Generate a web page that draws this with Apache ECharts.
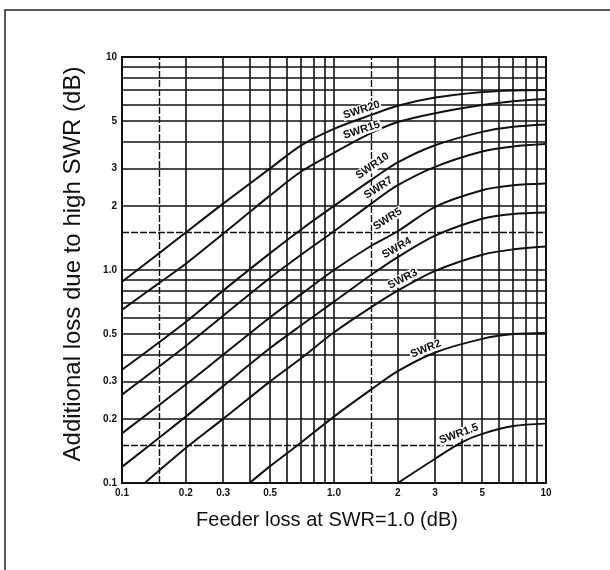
<!DOCTYPE html>
<html>
<head>
<meta charset="utf-8">
<script src="https://cdn.jsdelivr.net/npm/echarts@6/dist/echarts.min.js"></script>
<style>
  html, body { margin: 0; padding: 0; background: #fff; }
  #chart { width: 610px; height: 570px; }
</style>
</head>
<body>
<div id="chart"></div>
<script>
// values: feeder loss at SWR=1.0 (dB) -> additional loss (dB)
var feed20 = [0.1, 0.15, 0.2, 0.3, 0.5, 0.7, 1, 1.5, 2, 3, 5, 7, 10];
var add20  = [0.88, 1.2, 1.5, 2.05, 3.0, 3.85, 4.6, 5.35, 5.9, 6.45, 6.85, 6.97, 7.0];

var feed15 = [0.1, 0.15, 0.2, 0.3, 0.4, 0.5, 0.7, 1, 1.5, 2, 3, 5, 7, 10];
var add15  = [0.65, 0.87, 1.07, 1.48, 1.87, 2.24, 2.9, 3.55, 4.4, 4.95, 5.45, 5.95, 6.2, 6.35];

var feed10 = [0.1, 0.2, 0.3, 0.5, 0.7, 1, 1.5, 2, 3, 5, 7, 10];
var add10  = [0.34, 0.57, 0.8, 1.2, 1.55, 2.0, 2.65, 3.2, 3.85, 4.45, 4.7, 4.82];

var feed7 = [0.1, 0.2, 0.3, 0.5, 0.7, 1, 1.5, 2, 3, 5, 7, 10];
var add7  = [0.26, 0.44, 0.61, 0.92, 1.18, 1.52, 2.05, 2.5, 3.05, 3.6, 3.8, 3.9];

var feed5 = [0.1, 0.2, 0.3, 0.5, 0.7, 1, 1.5, 2, 3, 5, 7, 10];
var add5  = [0.171, 0.29, 0.4, 0.6, 0.77, 1.0, 1.3, 1.52, 1.98, 2.37, 2.5, 2.55];

var feed4 = [0.1, 0.2, 0.3, 0.5, 0.7, 1, 1.5, 2, 3, 5, 7, 10];
var add4  = [0.119, 0.205, 0.285, 0.43, 0.55, 0.71, 0.95, 1.15, 1.45, 1.74, 1.83, 1.86];

var feed3 = [0.128, 0.2, 0.3, 0.5, 0.7, 1, 1.5, 2, 3, 5, 7, 10];
var add3  = [0.1, 0.146, 0.2, 0.3, 0.385, 0.51, 0.67, 0.8, 0.99, 1.18, 1.25, 1.29];

var feed2 = [0.4, 0.5, 0.7, 1, 1.5, 2, 3, 5, 7, 10];
var add2  = [0.1, 0.12, 0.155, 0.205, 0.275, 0.335, 0.41, 0.475, 0.5, 0.506];

var feed15a = [2, 3, 4, 5, 7, 10];
var add15a  = [0.1, 0.13, 0.155, 0.17, 0.185, 0.19];

var curveNames = ['SWR20', 'SWR15', 'SWR10', 'SWR7', 'SWR5', 'SWR4', 'SWR3', 'SWR2', 'SWR1.5'];
var curveX = [feed20, feed15, feed10, feed7, feed5, feed4, feed3, feed2, feed15a];
var curveY = [add20, add15, add10, add7, add5, add4, add3, add2, add15a];

// tick labels and grid lines
var xLabels = [0.1, 0.2, 0.3, 0.5, 1, 2, 3, 5, 10];
var yLabels = [0.1, 0.2, 0.3, 0.5, 1, 2, 3, 5, 10];
var xGrid = [0.15, 0.2, 0.3, 0.4, 0.5, 0.6, 0.7, 0.8, 0.9, 1, 1.5, 2, 3, 4, 5, 6, 7, 8, 9];
var yGrid = [0.15, 0.2, 0.3, 0.4, 0.5, 0.6, 0.7, 0.8, 0.9, 1, 1.5, 2, 3, 4, 5, 6, 7, 8, 9];
var dashedGrid = [0.15, 1.5];

// curve label placement (centre in chart units) and tilt in degrees
var labelSpots = [
    {at: [1.35, 5.64], rotate: 18},
    {at: [1.35, 4.54], rotate: 18},
    {at: [1.52, 3.08], rotate: 35},
    {at: [1.62, 2.43], rotate: 33},
    {at: [1.79, 1.735], rotate: 33},
    {at: [1.975, 1.268], rotate: 30},
    {at: [2.11, 0.907], rotate: 27},
    {at: [2.71, 0.426], rotate: 22},
    {at: [3.88, 0.170], rotate: 20}
];

function fmt(v) {
    v = +Number(v).toPrecision(3);
    return v === 1 ? '1.0' : String(v);
}

var gridLines = [];
xGrid.forEach(function (v) {
    var item = {xAxis: v};
    if (dashedGrid.indexOf(v) >= 0) item.lineStyle = {type: [7, 2], width: 1.4};
    gridLines.push(item);
});
yGrid.forEach(function (v) {
    var item = {yAxis: v};
    if (dashedGrid.indexOf(v) >= 0) item.lineStyle = {type: [7, 2], width: 1.4};
    gridLines.push(item);
});

var series = curveNames.map(function (name, i) {
    var data = curveX[i].map(function (x, j) {
        return [x, curveY[i][j]];
    });
    var s = {
        name: name,
        type: 'line',
        data: data,
        smooth: 0.3,
        showSymbol: false,
        symbol: 'none',
        silent: true,
        lineStyle: {color: '#111', width: 2},
        animation: false
    };
    if (i === 0) {
        s.markLine = {
            silent: true,
            symbol: ['none', 'none'],
            label: {show: false},
            lineStyle: {color: '#111', width: 1.6, type: 'solid'},
            emphasis: {disabled: true},
            animation: false,
            data: gridLines
        };
    }
    return s;
});

var frame = {
    id: 'frame',
    type: 'rect',
    silent: true,
    shape: {x: 5, y: 10, width: 640, height: 600},
    style: {fill: null, stroke: '#222', lineWidth: 1.5}
};

var option = {
    backgroundColor: '#fff',
    animation: false,
    graphic: [frame],
    grid: {
        left: 122, top: 57, right: 64, bottom: 87,
        show: true, borderColor: '#111', borderWidth: 2, backgroundColor: 'transparent'
    },
    xAxis: {
        type: 'log', logBase: 10, min: 0.1, max: 10,
        name: 'Feeder loss at SWR=1.0 (dB)',
        nameLocation: 'middle', nameGap: 27,
        nameTextStyle: {fontFamily: 'Liberation Sans', fontSize: 20, color: '#111', padding: [0, 14, 0, 0]},
        axisLine: {show: false},
        axisTick: {show: false},
        splitLine: {show: false},
        minorSplitLine: {show: false},
        axisLabel: {
            customValues: xLabels,
            formatter: fmt,
            margin: 5,
            fontFamily: 'Liberation Sans', fontWeight: 'bold', fontSize: 10, color: '#111'
        }
    },
    yAxis: {
        type: 'log', logBase: 10, min: 0.1, max: 10,
        name: 'Additional loss due to high SWR (dB)',
        nameLocation: 'middle', nameGap: 37,
        nameTextStyle: {fontFamily: 'Liberation Sans', fontSize: 24, color: '#111', padding: [0, 0, 0, 12]},
        axisLine: {show: false},
        axisTick: {show: false},
        splitLine: {show: false},
        axisLabel: {
            customValues: yLabels,
            formatter: fmt,
            margin: 5,
            fontFamily: 'Liberation Sans', fontWeight: 'bold', fontSize: 10, color: '#111'
        }
    },
    series: series
};

var chart = echarts.init(document.getElementById('chart'), null, {renderer: 'canvas'});
chart.setOption(option);

// curve names, placed through the chart's own scales
var texts = labelSpots.map(function (spot, i) {
    var p = chart.convertToPixel({gridIndex: 0}, spot.at);
    return {
        id: 'lab' + i,
        type: 'text',
        silent: true,
        z: 100,
        x: p[0],
        y: p[1],
        rotation: spot.rotate * Math.PI / 180,
        style: {
            text: curveNames[i],
            align: 'center',
            verticalAlign: 'middle',
            fill: '#111',
            font: 'bold 11px "Liberation Sans"',
            backgroundColor: '#fff',
            padding: [0, 1]
        }
    };
});
chart.setOption({graphic: [frame].concat(texts)});
window.onresize = chart.resize;
</script>
</body>
</html>
